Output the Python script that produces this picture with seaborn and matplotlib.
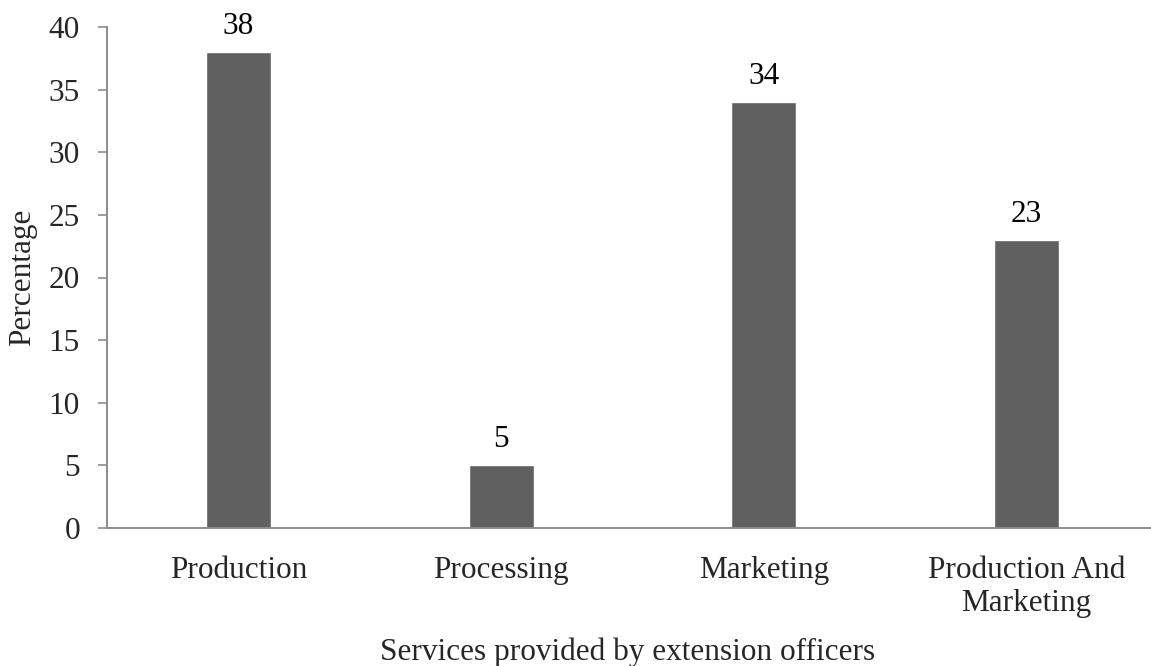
import matplotlib
matplotlib.use('Agg')
import matplotlib.pyplot as plt
import seaborn as sns
import pandas as pd

# ── DATA ────────────────────────────────────────────────────────────────────
categories = ["Production", "Processing", "Marketing", "Production And\nMarketing"]
percentages = [38, 5, 34, 23]
y_ticks = [0, 5, 10, 15, 20, 25, 30, 35, 40]

df = pd.DataFrame({"service": categories, "pct": percentages})

# ── STYLE ───────────────────────────────────────────────────────────────────
sns.set_style("white")
plt.rcParams['font.family'] = ['Liberation Serif', 'DejaVu Serif']
FS = 22.5
BAR_COLOR = "#606060"
AXIS_COLOR = "#8c8c8c"

# axes run a little past the right edge of the image, as in the original
fig = plt.figure(figsize=(11.51, 6.66), dpi=100)
ax = fig.add_axes([107 / 1151, 1 - 528 / 666, 1051 / 1151, (528 - 27) / 666])

sns.barplot(data=df, x="service", y="pct", color=BAR_COLOR, saturation=1,
            width=0.248, ax=ax)

for p, v in zip(ax.patches, percentages):
    ax.annotate(f"{v}", (p.get_x() + p.get_width() / 2, p.get_height()),
                xytext=(0, 8), textcoords="offset points",
                ha="center", va="bottom", fontsize=FS, color="black")

ax.set_ylim(0, 40)
ax.set_xlim(-0.5, 3.5)
ax.set_yticks(y_ticks)
ax.tick_params(axis='y', length=6.5, width=1.2, color=AXIS_COLOR, labelsize=FS, pad=13, left=True)
ax.tick_params(axis='x', length=0, labelsize=FS, pad=20)

for s in ["top", "right"]:
    ax.spines[s].set_visible(False)
for s in ["left", "bottom"]:
    ax.spines[s].set_color(AXIS_COLOR)
    ax.spines[s].set_linewidth(1.4)

ax.set_xlabel("Services provided by extension officers", fontsize=FS)
ax.set_ylabel("Percentage", fontsize=FS, labelpad=8)
# centre the x label under the visible part of the image
ax.xaxis.set_label_coords((628 - 107) / 1051, -0.218)

plt.savefig("out.png", dpi=100)
plt.close()
